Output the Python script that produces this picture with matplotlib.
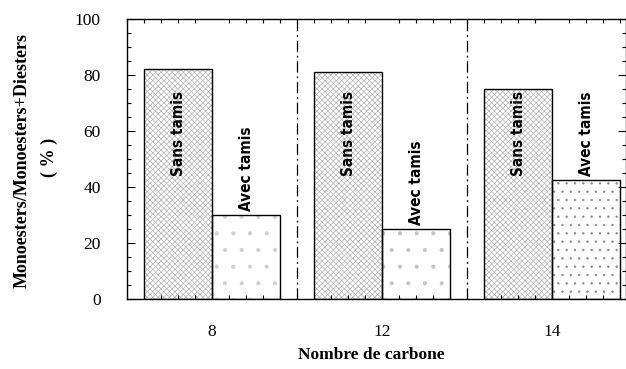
import numpy as np
import matplotlib.pyplot as plt
from matplotlib.ticker import MultipleLocator

# carbon chain length of the fatty acid
carbones = ["8", "12", "14"]
# monoester share (%) without and with molecular sieve
sans_tamis = [82, 81, 75]
avec_tamis = [30, 25, 42.5]

plt.rcParams["hatch.linewidth"] = 0.5
serif = ["Liberation Serif", "DejaVu Serif"]

fig = plt.figure(figsize=(6.26, 3.69), dpi=100)
ax = fig.add_axes([127 / 626, 70 / 369, 499 / 626, 280 / 369])

x = np.arange(len(carbones))
w = 0.4

# textured fills first, then plain black outlines on top
ax.bar(x - w / 2, sans_tamis, w, color="white", edgecolor="#b4b4b4",
       hatch="xxxxxx", linewidth=0)
avec_hatch = [".", ".", ".."]
avec_col = ["#cfcfcf", "#c4c4c4", "#8c8c8c"]
for i in range(len(carbones)):
    ax.bar(x[i] + w / 2, avec_tamis[i], w, color="white", edgecolor=avec_col[i],
           hatch=avec_hatch[i], linewidth=0)
ax.bar(x - w / 2, sans_tamis, w, fill=False, edgecolor="black", linewidth=1.0)
ax.bar(x + w / 2, avec_tamis, w, fill=False, edgecolor="black", linewidth=1.0)

for i in range(len(carbones)):
    ax.text(x[i] - w / 2, 59, "Sans tamis", rotation=90, ha="center", va="center",
            fontsize=11, fontweight="bold", family="DejaVu Sans",
            fontstretch="condensed")
    ax.text(x[i] + w / 2, avec_tamis[i] + 1.5, "Avec tamis", rotation=90,
            ha="center", va="bottom", fontsize=11, fontweight="bold",
            family="DejaVu Sans", fontstretch="condensed")

# dash-dot separators between the groups
for s in [0.5, 1.5]:
    ax.plot([s, s], [0, 100], color="black", linewidth=0.9,
            linestyle=(0, (9, 3, 1.5, 3)))

ax.set_xlim(-0.5, 2.435)
ax.set_ylim(0, 100)
ax.set_xticks(x)
ax.set_xticklabels(carbones, family=serif, fontsize=12.5)
ax.xaxis.set_minor_locator(MultipleLocator(0.1))
ax.yaxis.set_major_locator(MultipleLocator(20))
ax.yaxis.set_minor_locator(MultipleLocator(5))
for lbl in ax.get_yticklabels():
    lbl.set_family(serif)
    lbl.set_fontsize(12.5)

ax.tick_params(axis="both", which="both", direction="in", top=True, right=True,
               width=0.8)
ax.tick_params(axis="x", which="major", length=0, pad=18)
ax.tick_params(axis="x", which="minor", length=3)
ax.tick_params(axis="y", which="major", length=6, pad=19)
ax.tick_params(axis="y", which="minor", length=3)
for sp in ax.spines.values():
    sp.set_linewidth(1.0)

fig.text(22 / 626, 1 - 161 / 369, "Monoesters/Monoesters+Diesters", rotation=90,
         ha="center", va="center", fontsize=13, fontweight="bold", family=serif)
fig.text(49 / 626, 1 - 157 / 369, "( % )", rotation=90, ha="center", va="center",
         fontsize=13, fontweight="bold", family=serif)
fig.text(371 / 626, 1 - 355 / 369, "Nombre de carbone", ha="center", va="center",
         fontsize=12.5, fontweight="bold", family=serif)

fig.savefig("out.png", dpi=100)
